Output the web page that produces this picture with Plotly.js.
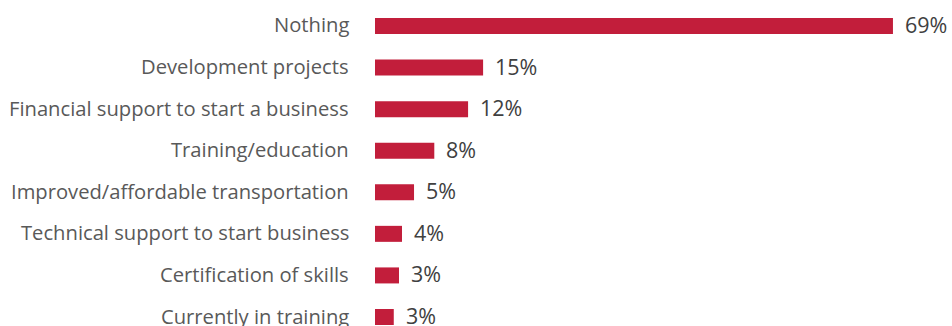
<!DOCTYPE html>
<html>
<head>
<meta charset="utf-8">
<script src="https://cdn.plot.ly/plotly-3.0.1.min.js"></script>
<style>html,body{margin:0;padding:0;background:#fff;}#chart{width:952px;height:326px;}</style>
</head>
<body>
<div id="chart"></div>
<script>
const categories = [
  "Nothing",
  "Development projects",
  "Financial support to start a business",
  "Training/education",
  "Improved/affordable transportation",
  "Technical support to start business",
  "Certification of skills",
  "Currently in training"
];
const values = [69, 14.4, 12.4, 7.9, 5.2, 3.6, 3.2, 2.5];
const valueLabels = ["69%", "15%", "12%", "8%", "5%", "4%", "3%", "3%"];

const idx = categories.map((c, i) => i);

const trace = {
  type: "bar",
  orientation: "h",
  x: values,
  y: idx,
  width: 0.385,
  marker: {color: "#C21E3B"},
  hoverinfo: "skip",
  cliponaxis: false
};

const valueAnnotations = values.map((v, i) => ({
  x: v, y: i, xref: "x", yref: "y",
  text: valueLabels[i],
  showarrow: false,
  xanchor: "left", yanchor: "middle",
  xshift: 10, yshift: 1.5,
  font: {family: "Open Sans", size: 21.5, color: "#404040"}
}));

const categoryAnnotations = categories.map((c, i) => ({
  x: 0, y: i, xref: "paper", yref: "y",
  text: c,
  showarrow: false,
  xanchor: "right", yanchor: "middle",
  xshift: -24, yshift: 1.5,
  font: {family: "Open Sans", size: 20.2, color: "#595959"}
}));

const layout = {
  width: 952, height: 326,
  margin: {l: 375, r: 14, t: 0, b: 0},
  paper_bgcolor: "#fff", plot_bgcolor: "#fff",
  showlegend: false,
  xaxis: {range: [0, 75], visible: false, showgrid: false, zeroline: false},
  yaxis: {
    range: [7.2165, -0.625],
    showticklabels: false,
    showgrid: false, zeroline: false, showline: false, ticks: ""
  },
  annotations: valueAnnotations.concat(categoryAnnotations)
};

Plotly.newPlot("chart", [trace], layout, {staticPlot: true, displayModeBar: false});
</script>
</body>
</html>
